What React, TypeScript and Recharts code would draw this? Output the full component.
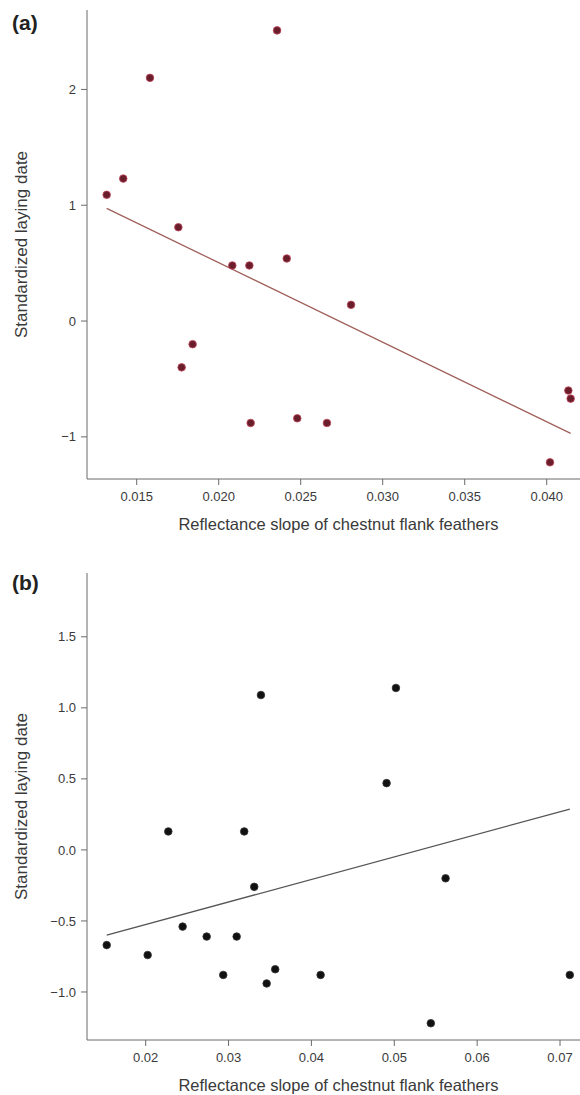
import { ScatterChart, Scatter, XAxis, YAxis, ReferenceLine } from "recharts";

// Panel (a): reflectance slope vs standardized laying date
const slopeA = [
  0.02356, 0.01581, 0.01418, 0.01317, 0.01754, 0.02083, 0.02187, 0.02415, 0.01841,
  0.01774, 0.02195, 0.02807, 0.02479, 0.0266, 0.04132, 0.04146, 0.0402,
];
const layingA = [
  2.51, 2.1, 1.23, 1.09, 0.81, 0.48, 0.48, 0.54, -0.2, -0.4, -0.88, 0.14, -0.84, -0.88,
  -0.6, -0.67, -1.22,
];
const fitA = [
  { x: 0.01317, y: 0.973 },
  { x: 0.04146, y: -0.97 },
];
const xTicksA = [0.015, 0.02, 0.025, 0.03, 0.035, 0.04];
const yTicksA = [-1, 0, 1, 2];

// Panel (b)
const slopeB = [
  0.03391, 0.02273, 0.03189, 0.0502, 0.04907, 0.0331, 0.0153, 0.02024, 0.02446, 0.02736,
  0.03098, 0.02936, 0.0346, 0.03563, 0.05619, 0.04111, 0.07118, 0.05441,
];
const layingB = [
  1.09, 0.13, 0.13, 1.14, 0.47, -0.26, -0.67, -0.74, -0.54, -0.61, -0.61, -0.88, -0.94,
  -0.84, -0.2, -0.88, -0.88, -1.22,
];
const fitB = [
  { x: 0.0153, y: -0.6 },
  { x: 0.07118, y: 0.287 },
];
const xTicksB = [0.02, 0.03, 0.04, 0.05, 0.06, 0.07];
const yTicksB = [-1.0, -0.5, 0.0, 0.5, 1.0, 1.5];

const FONT = "'Liberation Sans', Arial, sans-serif";
const AXIS = "#6a6a6a";
const TEXT = "#3a3a3a";
const X_TITLE = "Reflectance slope of chestnut flank feathers";
const Y_TITLE = "Standardized laying date";

const toPoints = (xs: number[], ys: number[]) => xs.map((x, i) => ({ x, y: ys[i] }));
const minus = (s: string) => s.replace("-", "\u2212");

const yTitle = (props: any) => {
  const vb = props.viewBox;
  const cx = 21;
  const cy = vb.y + vb.height / 2;
  return (
    <text
      x={cx}
      y={cy}
      transform={`rotate(-90, ${cx}, ${cy})`}
      textAnchor="middle"
      dominantBaseline="central"
      fontSize={17}
      fontFamily={FONT}
      fill={TEXT}
    >
      {Y_TITLE}
    </text>
  );
};

const xTitle = (props: any) => {
  const vb = props.viewBox;
  return (
    <text
      x={vb.x + vb.width / 2 + 5}
      y={vb.y + 45}
      textAnchor="middle"
      dominantBaseline="central"
      fontSize={16.5}
      fontFamily={FONT}
      fill={TEXT}
    >
      {X_TITLE}
    </text>
  );
};

interface PanelProps {
  xs: number[];
  ys: number[];
  fit: { x: number; y: number }[];
  xDomain: [number, number];
  yDomain: [number, number];
  xTicks: number[];
  yTicks: number[];
  xFmt: (v: number) => string;
  yFmt: (v: number) => string;
  marginTop: number;
  marginBottom: number;
  dotFill: string;
  dotStroke: string;
  lineColor: string;
}

function Panel(p: PanelProps) {
  const tick = { fontSize: 13, fill: TEXT, fontFamily: FONT };
  return (
    <ScatterChart
      width={580}
      height={545}
      margin={{ top: p.marginTop, right: 0, bottom: p.marginBottom, left: 27 }}
    >
      <XAxis
        type="number"
        dataKey="x"
        domain={p.xDomain}
        ticks={p.xTicks}
        tickFormatter={p.xFmt}
        allowDataOverflow
        height={40}
        tickSize={6}
        tickMargin={7}
        tick={tick}
        stroke={AXIS}
        label={{ content: xTitle }}
      />
      <YAxis
        type="number"
        dataKey="y"
        domain={p.yDomain}
        ticks={p.yTicks}
        tickFormatter={p.yFmt}
        allowDataOverflow
        width={60}
        tickSize={6}
        tickMargin={5}
        tick={tick}
        stroke={AXIS}
        label={{ content: yTitle }}
      />
      <ReferenceLine
        segment={p.fit}
        stroke={p.lineColor}
        strokeWidth={1.3}
        ifOverflow="visible"
      />
      <Scatter
        data={toPoints(p.xs, p.ys)}
        isAnimationActive={false}
        shape={(s: any) => (
          <circle cx={s.cx} cy={s.cy} r={3.8} fill={p.dotFill} stroke={p.dotStroke} strokeWidth={0.8} />
        )}
      />
    </ScatterChart>
  );
}

const panelLetter = (letter: string, top: number) => (
  <div
    style={{
      position: "absolute",
      left: 12,
      top,
      fontFamily: FONT,
      fontWeight: "bold",
      fontSize: 21,
      lineHeight: "21px",
      color: "#222",
    }}
  >
    {letter}
  </div>
);

export default function App() {
  return (
    <div style={{ position: "absolute", left: 0, top: 0, width: 580, height: 1095, background: "#fff", overflow: "hidden" }}>
      <div style={{ position: "absolute", left: 0, top: 0 }}>
        <Panel
          xs={slopeA}
          ys={layingA}
          fit={fitA}
          xDomain={[0.01197, 0.04203]}
          yDomain={[-1.364, 2.686]}
          xTicks={xTicksA}
          yTicks={yTicksA}
          xFmt={(v) => v.toFixed(3)}
          yFmt={(v) => minus(String(v))}
          marginTop={10}
          marginBottom={26}
          dotFill="#6a1e2c"
          dotStroke="#c0485a"
          lineColor="#a0605a"
        />
      </div>
      <div style={{ position: "absolute", left: 0, top: 550 }}>
        <Panel
          xs={slopeB}
          ys={layingB}
          fit={fitB}
          xDomain={[0.01292, 0.07241]}
          yDomain={[-1.338, 1.949]}
          xTicks={xTicksB}
          yTicks={yTicksB}
          xFmt={(v) => v.toFixed(2)}
          yFmt={(v) => minus(v.toFixed(1))}
          marginTop={23}
          marginBottom={15}
          dotFill="#111"
          dotStroke="#333"
          lineColor="#555"
        />
      </div>
      {panelLetter("(a)", 12)}
      {panelLetter("(b)", 572)}
    </div>
  );
}
